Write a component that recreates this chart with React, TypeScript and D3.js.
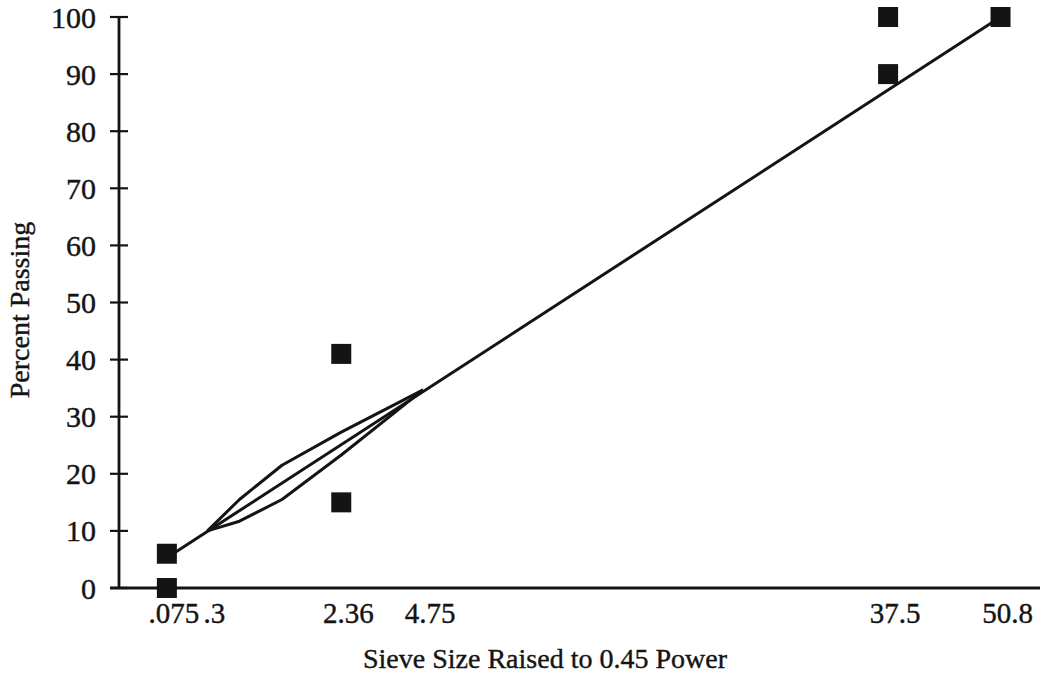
import React from "react";
import * as d3 from "d3";

const W = 1045;
const H = 677;

// Grading chart plotted against sieve size raised to the 0.45 power
const POWER = 0.45;
const X_MAX_SIEVE = 56;

// Sieve sizes (mm) labelled along the bottom axis
const sieveLabels = [".075", ".3", "2.36", "4.75", "37.5", "50.8"];
const sieveSizes = [0.075, 0.3, 2.36, 4.75, 37.5, 50.8];

// Percent passing ticks
const yTicks = [0, 10, 20, 30, 40, 50, 60, 70, 80, 90, 100];

// Control points (sieve mm, percent passing)
const controlSieve = [0.075, 0.075, 2.36, 2.36, 37.5, 37.5, 50.8];
const controlPassing = [0, 6, 15, 41, 90, 100, 100];

// Restricted zone boundaries
const zoneSieve = [0.3, 0.6, 1.18, 2.36, 4.75];
const zoneLower = [10.0, 11.7, 15.5, 23.3, 34.7];
const zoneUpper = [10.0, 15.5, 21.5, 27.3, 34.7];

// Maximum density line
const maxDensitySieve = [0.075, 50.8];
const maxDensityPassing = [5.3, 100];

const FONT = "'Liberation Serif', 'Times New Roman', serif";
const INK = "#141414";

const textStyle = {
  fontFamily: FONT,
  fill: INK,
  stroke: INK,
  strokeWidth: 0.4,
} as const;

export default function App() {
  const x = d3.scalePow().exponent(POWER).domain([0, X_MAX_SIEVE]).range([120, 1040]);
  const y = d3.scaleLinear().domain([0, 100]).range([588, 17]);

  const line = d3
    .line<[number, number]>()
    .x((d) => x(d[0]))
    .y((d) => y(d[1]));

  const maxLine = line(maxDensitySieve.map((s, i) => [s, maxDensityPassing[i]]));
  const lowerLine = line(zoneSieve.map((s, i) => [s, zoneLower[i]]));
  const upperLine = line(zoneSieve.map((s, i) => [s, zoneUpper[i]]));

  const axisX = x(0) - 1;
  const sq = 20;

  return (
    <svg width={W} height={H} style={{ display: "block", position: "absolute", left: 0, top: 0, background: "#fff" }}>
      <rect width={W} height={H} fill="#fff" />
      {/* vertical axis with cross ticks */}
      <line x1={axisX} x2={axisX} y1={y(100)} y2={y(0)} stroke={INK} strokeWidth={2.8} />
      {yTicks.map((t) => (
        <g key={t}>
          <line x1={axisX - 9} x2={axisX + 9} y1={y(t)} y2={y(t)} stroke={INK} strokeWidth={2.2} />
          <text x={96} y={y(t)} dy="0.35em" textAnchor="end" fontSize={30} style={textStyle}>
            {t}
          </text>
        </g>
      ))}
      {/* horizontal axis */}
      <line x1={axisX - 9} x2={x(X_MAX_SIEVE)} y1={y(0)} y2={y(0)} stroke={INK} strokeWidth={2.8} />
      {sieveSizes.map((s, i) => (
        <text key={s} x={x(s) + 7} y={623} textAnchor="middle" fontSize={29} style={textStyle}>
          {sieveLabels[i]}
        </text>
      ))}

      {/* maximum density line and restricted zone */}
      <path d={maxLine ?? ""} fill="none" stroke={INK} strokeWidth={3} />
      <path d={lowerLine ?? ""} fill="none" stroke={INK} strokeWidth={3} strokeLinejoin="round" />
      <path d={upperLine ?? ""} fill="none" stroke={INK} strokeWidth={3} strokeLinejoin="round" />

      {/* control points */}
      {controlSieve.map((s, i) => (
        <rect key={i} x={x(s) - sq / 2} y={y(controlPassing[i]) - sq / 2} width={sq} height={sq} fill={INK} />
      ))}

      {/* axis titles */}
      <text x={545} y={668} textAnchor="middle" fontSize={28} style={textStyle}>
        Sieve Size Raised to 0.45 Power
      </text>
      <text transform={`translate(29,310) rotate(-90)`} textAnchor="middle" fontSize={28} style={textStyle}>
        Percent Passing
      </text>
    </svg>
  );
}
